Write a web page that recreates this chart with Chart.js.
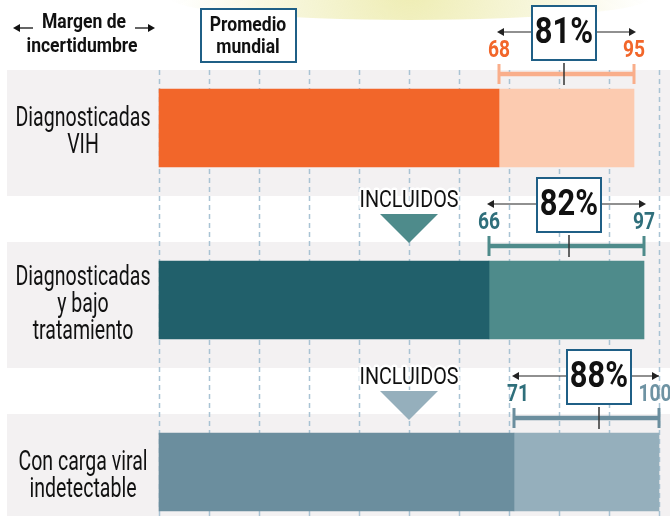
<!DOCTYPE html>
<html>
<head>
<meta charset="utf-8">
<script src="https://cdn.jsdelivr.net/npm/chart.js@4.4.1/dist/chart.umd.min.js"></script>
<style>
  html, body { margin: 0; padding: 0; background: #fff; overflow: hidden; }
  #wrap { width: 670px; height: 516px; }
</style>
</head>
<body>
<div id="wrap"><canvas id="chart" width="670" height="516"></canvas></div>
<script>
// Data
const categories = [['Diagnosticadas', 'VIH'], ['Diagnosticadas', 'y bajo', 'tratamiento'], ['Con carga viral', 'indetectable']];
const central = [81, 82, 88];
const lower = [68, 66, 71];
const upper = [95, 97, 100];
const included = [false, true, true];
const xTicks = [0, 10, 20, 30, 40, 50, 60, 70, 80, 90, 100];
const includedAt = 50;

// Colours
const darkColors  = ['#f2662a', '#21606b', '#6b8e9e'];
const lightColors = ['#fccbb0', '#4e8b8b', '#95afbc'];
const errColors   = ['#f9ae8b', '#4e8b8b', '#6b8e9e'];
const lowTxt  = ['#f2662a', '#2f6f7b', '#2f6f7b'];
const highTxt = ['#f2662a', '#2f6f7b', '#6e93a3'];
const boxBlue = '#1f5f86';
const band = '#f3f1f2';
const grid = '#a9c3d4';
const FONT = 'Roboto, "Noto Sans", sans-serif';
const catFont = '27px ' + FONT;
const inclFont = '24px ' + FONT;
const hFont = 'bold 21px ' + FONT;

// horizontally condensed text (the original uses a narrow face)
let sxReg = 0.8, sxBold = 0.78, sxIncl = 0.8;
function condensed(ctx, str, x, y, font, sx, halo) {
  ctx.save();
  ctx.font = font;
  ctx.translate(x, y);
  ctx.scale(sx, 1);
  if (halo) {
    ctx.lineWidth = 5;
    ctx.lineJoin = 'round';
    ctx.strokeStyle = '#fff';
    ctx.strokeText(str, 0, 0);
  }
  ctx.fillText(str, 0, 0);
  ctx.restore();
}

function arrowHead(ctx, x, y, dir) {
  ctx.beginPath();
  ctx.moveTo(x, y);
  ctx.lineTo(x - dir * 7, y - 4);
  ctx.lineTo(x - dir * 7, y + 4);
  ctx.closePath();
  ctx.fill();
}

const decor = {
  id: 'decor',
  beforeDatasetsDraw(chart) {
    const { ctx, scales: { x } } = chart;
    const bars = chart.getDatasetMeta(0).data;
    const H = chart.height;
    ctx.save();
    ctx.font = catFont;
    sxReg = 135 / ctx.measureText('Diagnosticadas').width;
    ctx.font = inclFont;
    sxIncl = 99 / ctx.measureText('INCLUIDOS').width;
    ctx.font = hFont;
    sxBold = 111 / ctx.measureText('incertidumbre').width;
    // watercolour wash at the top
    const g = ctx.createRadialGradient(410, -14, 10, 410, -14, 240);
    g.addColorStop(0, 'rgba(232,230,150,0.7)');
    g.addColorStop(0.6, 'rgba(236,234,170,0.35)');
    g.addColorStop(1, 'rgba(240,238,190,0)');
    ctx.fillStyle = g;
    ctx.beginPath();
    ctx.ellipse(410, -2, 240, 22, 0, 0, Math.PI * 2);
    ctx.fill();
    // grey bands
    let firstTop = 0;
    bars.forEach((b, i) => {
      const top = b.y - b.height / 2 - 19;
      const bottom = i < bars.length - 1 ? b.y + b.height / 2 + 29 : H;
      if (i === 0) firstTop = top;
      ctx.fillStyle = band;
      ctx.fillRect(7, top, chart.width - 7, bottom - top);
    });
    // dashed grid
    ctx.strokeStyle = grid;
    ctx.lineWidth = 1.5;
    ctx.setLineDash([5, 4]);
    xTicks.forEach(v => {
      const px = Math.round(x.getPixelForValue(v)) + 0.5;
      ctx.beginPath();
      ctx.moveTo(px, firstTop);
      ctx.lineTo(px, H);
      ctx.stroke();
    });
    ctx.restore();
  },
  afterDatasetsDraw(chart) {
    const { ctx, scales: { x } } = chart;
    const bars = chart.getDatasetMeta(0).data;
    ctx.save();
    ctx.textAlign = 'center';
    ctx.textBaseline = 'middle';
    bars.forEach((b, i) => {
      const top = b.y - b.height / 2;
      const xl = x.getPixelForValue(lower[i]);
      const xh = x.getPixelForValue(upper[i]);
      const xc = x.getPixelForValue(central[i]);
      // error bar
      const ey = top - 15;
      ctx.strokeStyle = errColors[i];
      ctx.lineWidth = 4.5;
      ctx.beginPath(); ctx.moveTo(xl, ey); ctx.lineTo(xh, ey); ctx.stroke();
      ctx.lineWidth = 3;
      [xl, xh].forEach(px => {
        ctx.beginPath(); ctx.moveTo(px, ey - 10); ctx.lineTo(px, ey + 10); ctx.stroke();
      });
      // central tick
      ctx.strokeStyle = '#333';
      ctx.lineWidth = 1.5;
      ctx.beginPath(); ctx.moveTo(xc, top - 26); ctx.lineTo(xc, top - 4); ctx.stroke();
      // bound labels
      const numFont = 'bold 23px ' + FONT;
      ctx.fillStyle = lowTxt[i];
      condensed(ctx, String(lower[i]), xl + (i === 2 ? 4 : 0), top - 38, numFont, sxBold);
      ctx.fillStyle = highTxt[i];
      condensed(ctx, String(upper[i]), Math.min(xh, chart.width - 15), top - 38, numFont, sxBold);
      // arrows
      const ay = top - 57;
      ctx.strokeStyle = '#222';
      ctx.fillStyle = '#222';
      ctx.lineWidth = 1.2;
      ctx.beginPath(); ctx.moveTo(xl, ay); ctx.lineTo(xh, ay); ctx.stroke();
      arrowHead(ctx, xl - 2, ay, -1);
      arrowHead(ctx, Math.min(xh + 2, chart.width - 11), ay, 1);
      // value box
      const bw = 64, bh = 54;
      const bx = Math.min(xc - bw / 2, chart.width - 43 - bw / 2);
      const by = top - 83;
      ctx.fillStyle = '#fff';
      ctx.fillRect(bx, by, bw, bh);
      ctx.strokeStyle = boxBlue;
      ctx.lineWidth = 2;
      ctx.strokeRect(bx, by, bw, bh);
      ctx.fillStyle = '#111';
      condensed(ctx, central[i] + '%', bx + bw / 2, by + bh / 2 + 1, 'bold 37px ' + FONT, sxBold);
      // INCLUIDOS marker
      if (included[i]) {
        const ix = x.getPixelForValue(includedAt);
        const ty = top - 60 + (i === 2 ? 5 : 0);
        ctx.fillStyle = '#111';
        condensed(ctx, 'INCLUIDOS', ix, ty, inclFont, sxIncl, true);
        ctx.fillStyle = lightColors[i];
        ctx.beginPath();
        ctx.moveTo(ix - 29, ty + 13);
        ctx.lineTo(ix + 29, ty + 13);
        ctx.lineTo(ix, ty + 42);
        ctx.closePath();
        ctx.fill();
      }
      // category label
      const lines = categories[i];
      ctx.fillStyle = '#111';
      const lh = 27;
      const y0 = b.y + 5 - (lines.length - 1) * lh / 2;
      lines.forEach((t, k) => condensed(ctx, t, 83, y0 + k * lh, catFont, sxReg));
    });
    // header: uncertainty legend
    ctx.fillStyle = '#111';
    condensed(ctx, 'Margen de', 84, 23, hFont, sxBold);
    condensed(ctx, 'incertidumbre', 82, 47, hFont, sxBold);
    ctx.strokeStyle = '#111';
    ctx.lineWidth = 1.3;
    ctx.beginPath(); ctx.moveTo(15, 28); ctx.lineTo(33, 28); ctx.stroke();
    ctx.beginPath(); ctx.moveTo(135, 28); ctx.lineTo(153, 28); ctx.stroke();
    arrowHead(ctx, 13, 28, -1);
    arrowHead(ctx, 155, 28, 1);
    // header: world average box
    ctx.fillStyle = '#fff';
    ctx.fillRect(201, 9, 95, 53);
    ctx.strokeStyle = boxBlue;
    ctx.lineWidth = 2;
    ctx.strokeRect(201, 9, 95, 53);
    ctx.fillStyle = '#111';
    condensed(ctx, 'Promedio', 248, 26, hFont, sxBold);
    condensed(ctx, 'mundial', 248, 48, hFont, sxBold);
    ctx.restore();
  }
};

new Chart(document.getElementById('chart'), {
  type: 'bar',
  data: {
    labels: categories,
    datasets: [
      { data: lower.map(v => [0, v]), backgroundColor: darkColors, grouped: false, barThickness: 78, borderWidth: 0, clip: false },
      { data: lower.map((v, i) => [v, upper[i]]), backgroundColor: lightColors, grouped: false, barThickness: 78, borderWidth: 0, clip: false }
    ]
  },
  options: {
    indexAxis: 'y',
    responsive: false,
    animation: false,
    layout: { padding: { left: 159, right: 11, top: 128, bottom: 44 } },
    scales: {
      x: { min: 0, max: 100, display: false },
      y: { display: false, offset: false }
    },
    plugins: { legend: { display: false }, tooltip: { enabled: false } }
  },
  plugins: [decor]
});
</script>
</body>
</html>
